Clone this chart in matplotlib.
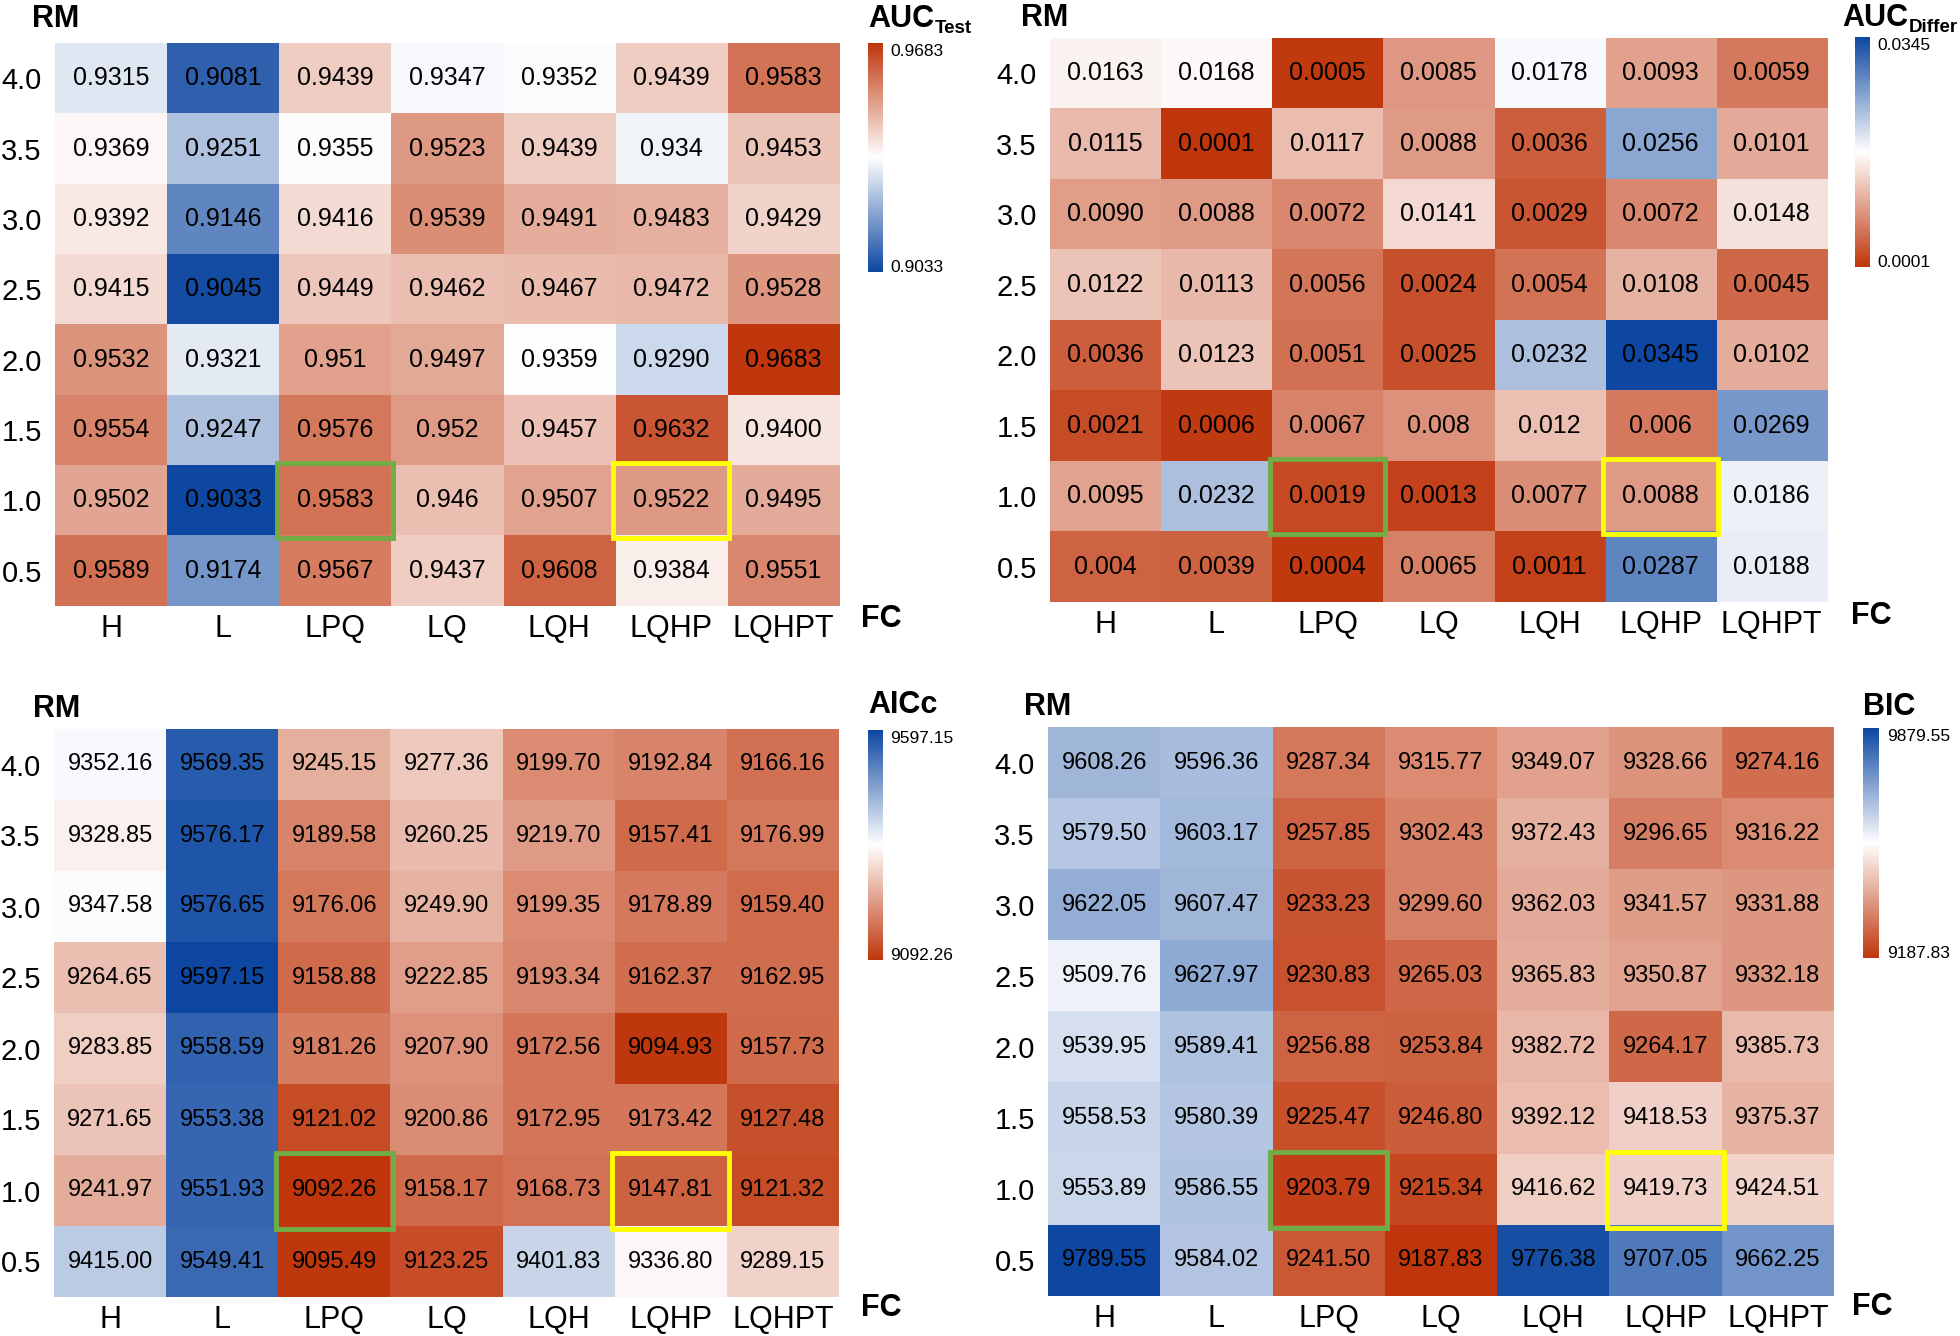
import matplotlib
matplotlib.use("Agg")
import matplotlib.pyplot as plt
import numpy as np
from matplotlib.colors import LinearSegmentedColormap, Normalize
from matplotlib.patches import Rectangle

plt.rcParams['font.family'] = ['Liberation Sans', 'DejaVu Sans']

# data (rows top -> bottom = RM 4.0 ... 0.5)
fc_labels = ["H", "L", "LPQ", "LQ", "LQH", "LQHP", "LQHPT"]
rm_labels = ["4.0", "3.5", "3.0", "2.5", "2.0", "1.5", "1.0", "0.5"]

auc_test = [
    ["0.9315", "0.9081", "0.9439", "0.9347", "0.9352", "0.9439", "0.9583"],
    ["0.9369", "0.9251", "0.9355", "0.9523", "0.9439", "0.934", "0.9453"],
    ["0.9392", "0.9146", "0.9416", "0.9539", "0.9491", "0.9483", "0.9429"],
    ["0.9415", "0.9045", "0.9449", "0.9462", "0.9467", "0.9472", "0.9528"],
    ["0.9532", "0.9321", "0.951", "0.9497", "0.9359", "0.9290", "0.9683"],
    ["0.9554", "0.9247", "0.9576", "0.952", "0.9457", "0.9632", "0.9400"],
    ["0.9502", "0.9033", "0.9583", "0.946", "0.9507", "0.9522", "0.9495"],
    ["0.9589", "0.9174", "0.9567", "0.9437", "0.9608", "0.9384", "0.9551"],
]
auc_diff = [
    ["0.0163", "0.0168", "0.0005", "0.0085", "0.0178", "0.0093", "0.0059"],
    ["0.0115", "0.0001", "0.0117", "0.0088", "0.0036", "0.0256", "0.0101"],
    ["0.0090", "0.0088", "0.0072", "0.0141", "0.0029", "0.0072", "0.0148"],
    ["0.0122", "0.0113", "0.0056", "0.0024", "0.0054", "0.0108", "0.0045"],
    ["0.0036", "0.0123", "0.0051", "0.0025", "0.0232", "0.0345", "0.0102"],
    ["0.0021", "0.0006", "0.0067", "0.008", "0.012", "0.006", "0.0269"],
    ["0.0095", "0.0232", "0.0019", "0.0013", "0.0077", "0.0088", "0.0186"],
    ["0.004", "0.0039", "0.0004", "0.0065", "0.0011", "0.0287", "0.0188"],
]
aicc = [
    ["9352.16", "9569.35", "9245.15", "9277.36", "9199.70", "9192.84", "9166.16"],
    ["9328.85", "9576.17", "9189.58", "9260.25", "9219.70", "9157.41", "9176.99"],
    ["9347.58", "9576.65", "9176.06", "9249.90", "9199.35", "9178.89", "9159.40"],
    ["9264.65", "9597.15", "9158.88", "9222.85", "9193.34", "9162.37", "9162.95"],
    ["9283.85", "9558.59", "9181.26", "9207.90", "9172.56", "9094.93", "9157.73"],
    ["9271.65", "9553.38", "9121.02", "9200.86", "9172.95", "9173.42", "9127.48"],
    ["9241.97", "9551.93", "9092.26", "9158.17", "9168.73", "9147.81", "9121.32"],
    ["9415.00", "9549.41", "9095.49", "9123.25", "9401.83", "9336.80", "9289.15"],
]
bic = [
    ["9608.26", "9596.36", "9287.34", "9315.77", "9349.07", "9328.66", "9274.16"],
    ["9579.50", "9603.17", "9257.85", "9302.43", "9372.43", "9296.65", "9316.22"],
    ["9622.05", "9607.47", "9233.23", "9299.60", "9362.03", "9341.57", "9331.88"],
    ["9509.76", "9627.97", "9230.83", "9265.03", "9365.83", "9350.87", "9332.18"],
    ["9539.95", "9589.41", "9256.88", "9253.84", "9382.72", "9264.17", "9385.73"],
    ["9558.53", "9580.39", "9225.47", "9246.80", "9392.12", "9418.53", "9375.37"],
    ["9553.89", "9586.55", "9203.79", "9215.34", "9416.62", "9419.73", "9424.51"],
    ["9789.55", "9584.02", "9241.50", "9187.83", "9776.38", "9707.05", "9662.25"],
]
cbar_texts = [("0.9683", "0.9033"), ("0.0345", "0.0001"),
              ("9597.15", "9092.26"), ("9879.55", "9187.83")]
green_cell = (6, 2)   # RM 1.0, LPQ
yellow_cell = (6, 5)  # RM 1.0, LQHP

W, H = 1960, 1336
BLUE, RED = "#0D47A1", "#BF360C"
cmap_br = LinearSegmentedColormap.from_list("br", [BLUE, "#FFFFFF", RED])
cmap_rb = cmap_br.reversed()

fig = plt.figure(figsize=(W / 100, H / 100), dpi=100)


def px_rect(l, t, r, b):
    return [l / W, 1 - b / H, (r - l) / W, (b - t) / H]


def fx(x):
    return x / W


def fy(y):
    return 1 - y / H


panels = [
    dict(data=auc_test, cmap=cmap_br, heat=(55, 43, 839, 606), cb=(868, 43, 883, 272),
         cbx=890, title=("AUC", "Test"), tpos=(868, 27), rm=(32, 27), fc=(861, 627), fs=18),
    dict(data=auc_diff, cmap=cmap_rb, heat=(1050, 38, 1827, 602), cb=(1855, 37, 1870, 267),
         cbx=1877, title=("AUC", "Differ"), tpos=(1842, 26), rm=(1021, 26), fc=(1851, 624), fs=18),
    dict(data=aicc, cmap=cmap_rb, heat=(54, 729, 839, 1297), cb=(868, 730, 883, 960),
         cbx=890, title=("AICc", None), tpos=(868, 713), rm=(33, 717), fc=(861, 1316), fs=17),
    dict(data=bic, cmap=cmap_rb, heat=(1048, 727, 1834, 1296), cb=(1863, 728, 1879, 958),
         cbx=1887, title=("BIC", None), tpos=(1863, 715), rm=(1024, 715), fc=(1852, 1315), fs=17),
]

titles = []
for p, (ctop, cbot) in zip(panels, cbar_texts):
    labels = np.array(p["data"])
    vals = labels.astype(float)
    norm = Normalize(vmin=vals.min(), vmax=vals.max())

    ax = fig.add_axes(px_rect(*p["heat"]))
    im = ax.imshow(vals, cmap=p["cmap"], norm=norm, aspect="auto", interpolation="nearest")
    for i in range(vals.shape[0]):
        for j in range(vals.shape[1]):
            ax.text(j, i, labels[i, j], ha="center", va="center", fontsize=p["fs"], color="black")
    ax.set_xticks(range(len(fc_labels)))
    ax.set_xticklabels(fc_labels, fontsize=22)
    ax.set_yticks(range(len(rm_labels)))
    ax.set_yticklabels(rm_labels, fontsize=21)
    ax.tick_params(axis="x", length=0, pad=6)
    ax.tick_params(axis="y", length=0, pad=9.5)
    for s in ax.spines.values():
        s.set_visible(False)

    # highlighted models
    for (r, c), col in [(green_cell, "#70AD47"), (yellow_cell, "#FFFF00")]:
        ax.add_patch(Rectangle((c - 0.52, r - 0.53), 1.04, 1.07, fill=False,
                               edgecolor=col, lw=3.5, clip_on=False, zorder=5))

    cax = fig.add_axes(px_rect(*p["cb"]))
    cb = fig.colorbar(im, cax=cax)
    cb.outline.set_visible(False)
    cax.set_yticks([])
    fig.text(fx(p["cbx"]), fy(p["cb"][1] + 1), ctop, fontsize=12.5, ha="left", va="top")
    fig.text(fx(p["cbx"]), fy(p["cb"][3]), cbot, fontsize=12.5, ha="left", va="baseline")

    main, sub = p["title"]
    t = fig.text(fx(p["tpos"][0]), fy(p["tpos"][1]), main, fontsize=22, fontweight="bold",
                 ha="left", va="baseline")
    if sub:
        titles.append((t, sub))

    fig.text(fx(p["rm"][0]), fy(p["rm"][1]), "RM", fontsize=22, fontweight="bold",
             ha="left", va="baseline")
    fig.text(fx(p["fc"][0]), fy(p["fc"][1]), "FC", fontsize=22, fontweight="bold",
             ha="left", va="baseline")

# subscripts right after the title text
fig.canvas.draw()
renderer = fig.canvas.get_renderer()
for t, sub in titles:
    bb = t.get_window_extent(renderer)
    x0, y0 = t.get_position()
    fig.text((bb.x1 + 1) / W, y0 - 6 / H, sub, fontsize=13.5, fontweight="bold",
             ha="left", va="baseline")

fig.savefig("out.png", dpi=100)
